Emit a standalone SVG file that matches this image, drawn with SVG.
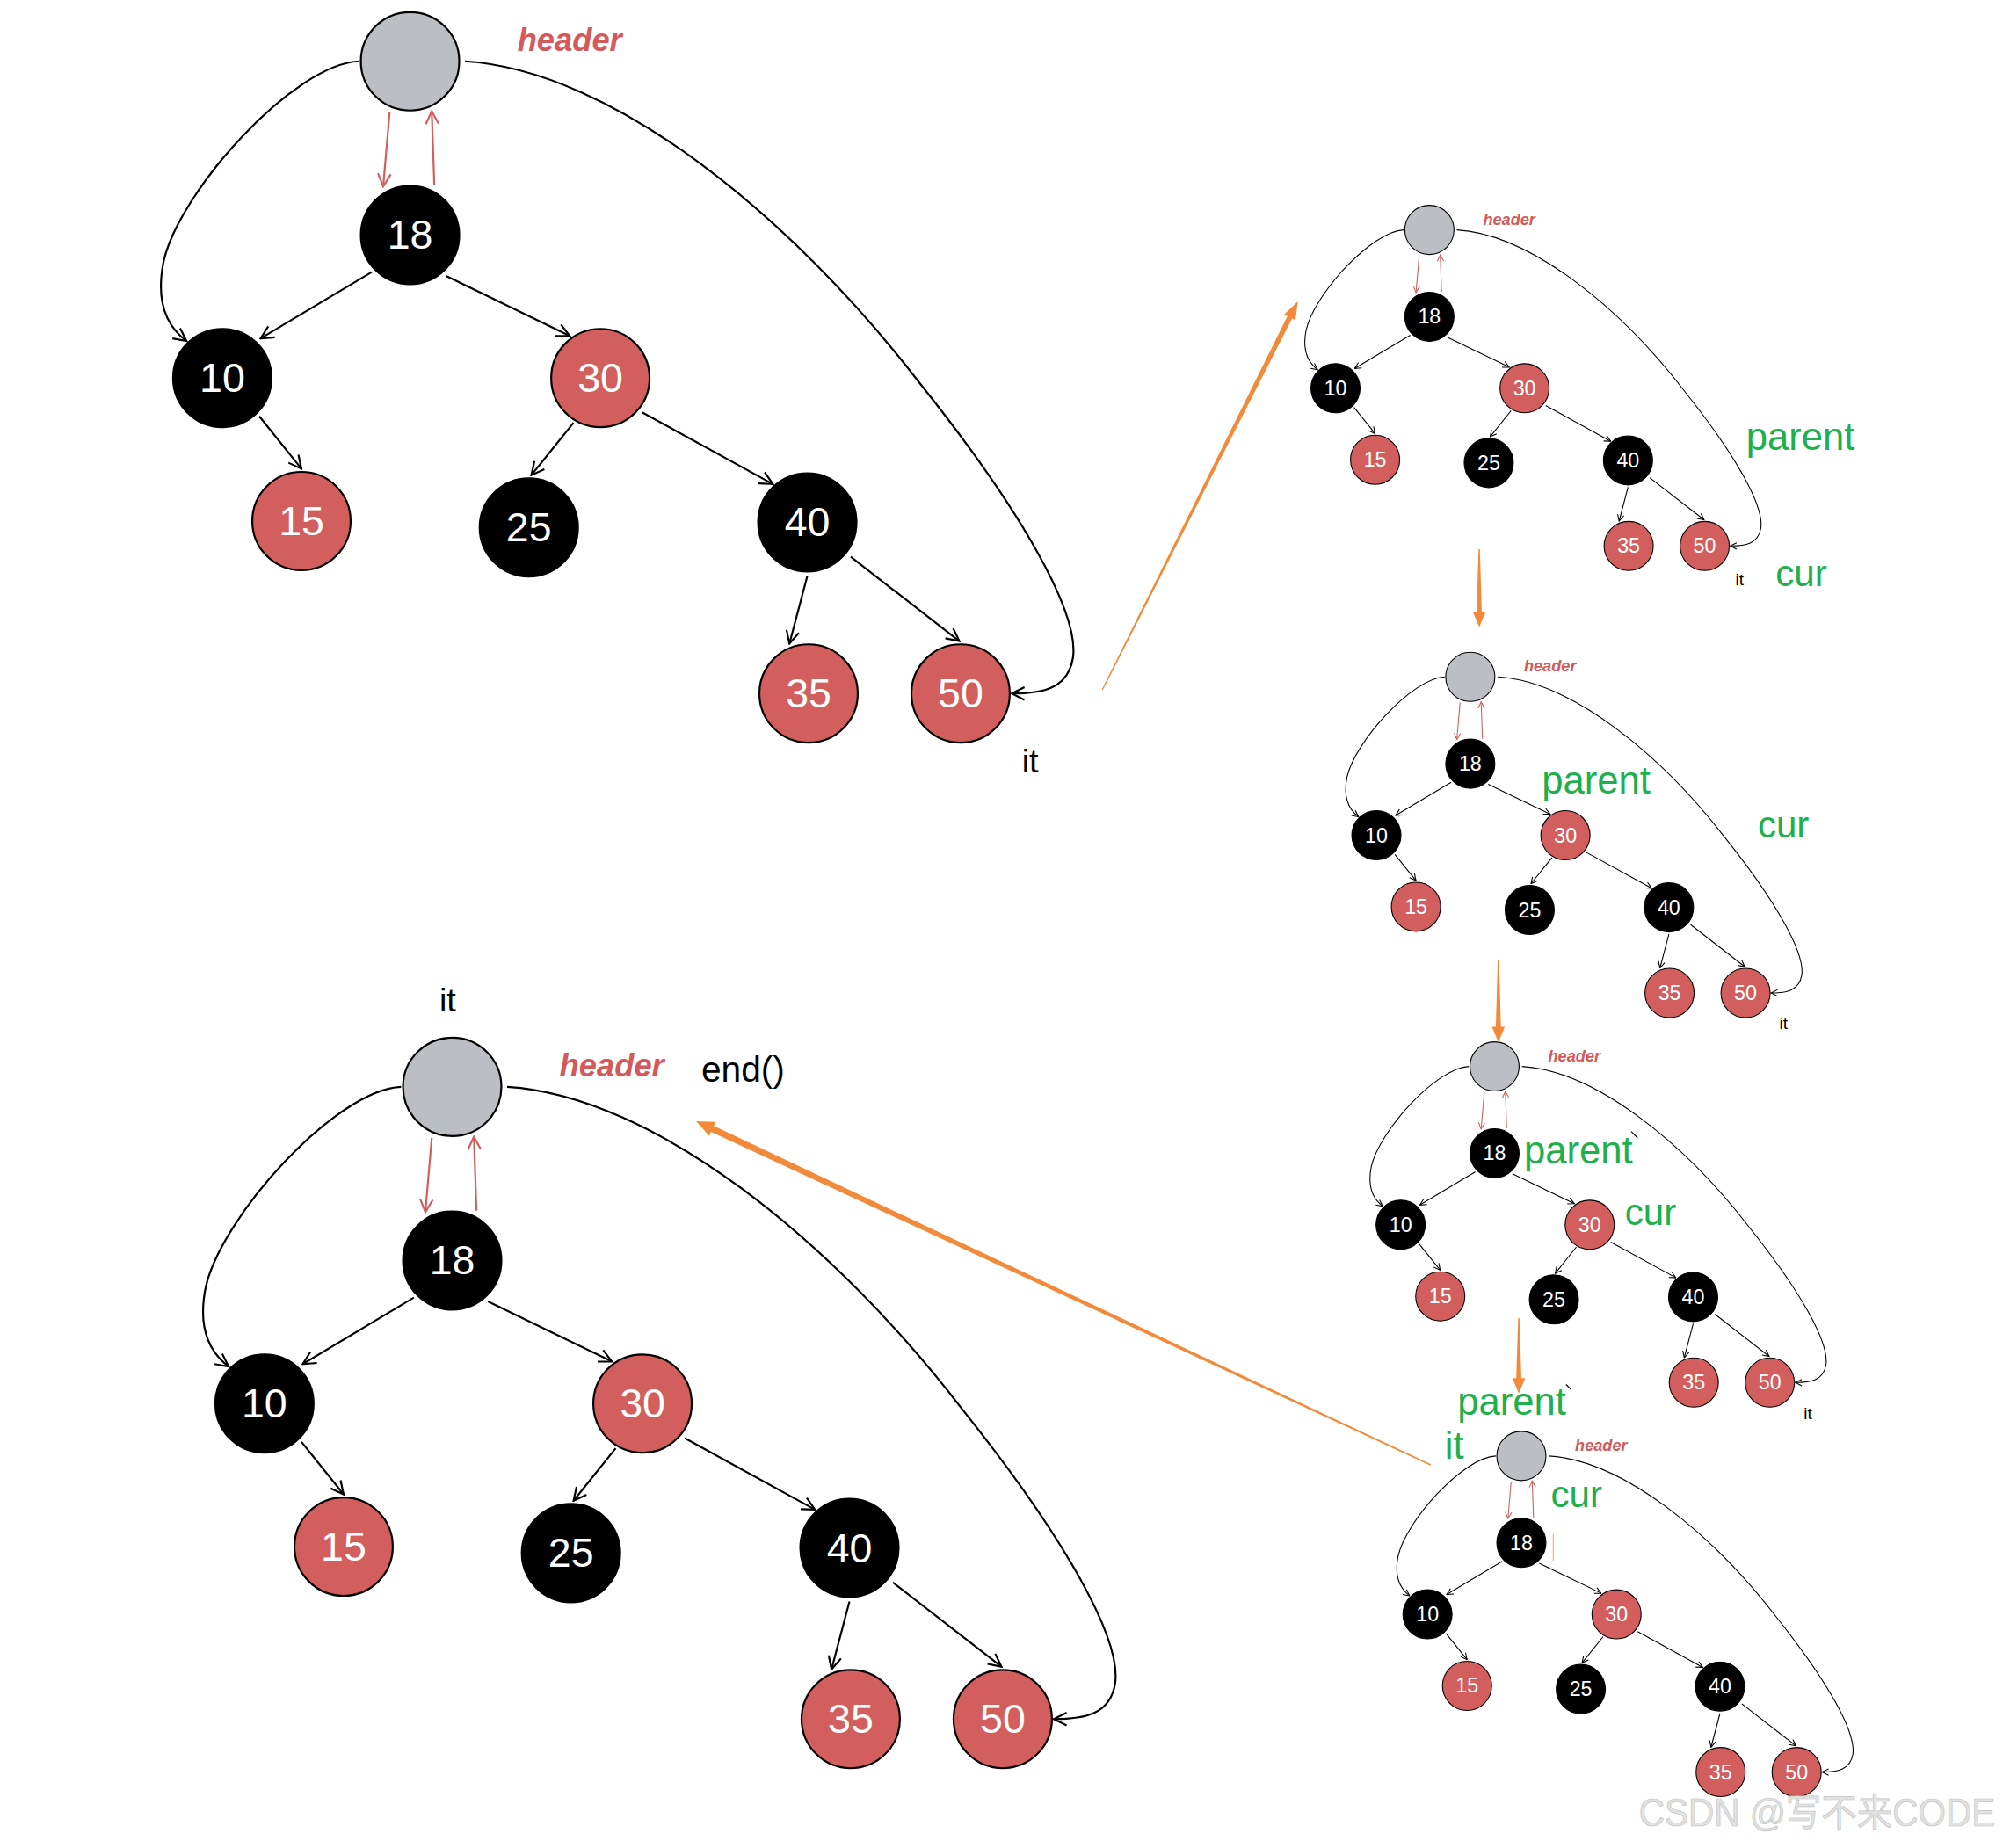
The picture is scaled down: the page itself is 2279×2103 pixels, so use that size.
<svg xmlns="http://www.w3.org/2000/svg" width="2279" height="2103" viewBox="0 0 2279 2103">
<style>
.hd{fill:#BBBEC2;stroke:#000;stroke-width:1.5}
.bk{fill:#000;stroke:#000;stroke-width:1.5}
.rd{fill:#D25E5E;stroke:#000;stroke-width:1.5}
.num{font-family:"Liberation Sans",Arial,sans-serif;font-size:32px;fill:#fff;text-anchor:middle}
.e{stroke:#000;stroke-width:1.5;fill:none;marker-end:url(#ah)}
.re{stroke:#D25E5E;stroke-width:1.5;fill:none;marker-end:url(#rah)}
.hl{font-family:"Liberation Sans",Arial,sans-serif;font-weight:bold;font-style:italic;font-size:25px;fill:#D4595B}
.lbl{font-family:"Liberation Sans",Arial,sans-serif;font-size:26px;fill:#000}
.gr{font-family:"Liberation Sans",Arial,sans-serif;font-size:30px;fill:#1DB04B}
.or{fill:#F28A3A;stroke:none}
.gap{stroke:#fff;stroke-width:3.5}
</style>
<defs>
<marker id="ah" viewBox="0 0 12 12" refX="11" refY="6" markerWidth="12" markerHeight="12" markerUnits="userSpaceOnUse" orient="auto"><path d="M1,1 L11,6 L1,11" fill="none" stroke="#000" stroke-width="1.5"/></marker>
<marker id="rah" viewBox="0 0 12 12" refX="11" refY="6" markerWidth="12" markerHeight="12" markerUnits="userSpaceOnUse" orient="auto"><path d="M1,1 L11,6 L1,11" fill="none" stroke="#D25E5E" stroke-width="1.5"/></marker>
</defs>
<rect width="2279" height="2103" fill="#fff"/>
<g transform="scale(1.4534)">

<!-- Tree 1 (top left, big) -->
<g id="tree1">
 <g id="tree1-connectors">
  <path class="e" d="M281,48 C230,50 140,150 128,205 C122,235 130,255 146,267"/>
  <path class="e" d="M364,48 C480,55 620,170 720,300 C800,400 845,480 840,515 C836,540 815,543 792,543"/>
  <line class="re" x1="305" y1="88" x2="300" y2="146"/>
  <line class="re" x1="340" y1="145" x2="338" y2="87"/>
  <line class="e" x1="291" y1="213" x2="204" y2="265"/>
  <line class="e" x1="349" y1="216" x2="446" y2="263"/>
  <line class="e" x1="203" y1="326" x2="236" y2="367"/>
  <line class="e" x1="449" y1="331" x2="416" y2="372"/>
  <line class="e" x1="503" y1="323" x2="605" y2="379"/>
  <line class="e" x1="632" y1="451" x2="618" y2="504"/>
  <line class="e" x1="666" y1="436" x2="751" y2="502"/>
 </g>
 <g id="tree1-header"><circle class="hd" cx="321" cy="48" r="38.5"/><text class="hl" x="405" y="40">header</text></g>
 <g id="tree1-n18"><circle class="bk" cx="321" cy="184" r="38.5"/><text class="num" x="321" y="195">18</text></g>
 <g id="tree1-n10"><circle class="bk" cx="174" cy="296" r="38.5"/><text class="num" x="174" y="307">10</text></g>
 <g id="tree1-n30"><circle class="rd" cx="470" cy="296" r="38.5"/><text class="num" x="470" y="307">30</text></g>
 <g id="tree1-n15"><circle class="rd" cx="236" cy="408" r="38.5"/><text class="num" x="236" y="419">15</text></g>
 <g id="tree1-n25"><circle class="bk" cx="414" cy="413" r="38.5"/><text class="num" x="414" y="424">25</text></g>
 <g id="tree1-n40"><circle class="bk" cx="632" cy="409" r="38.5"/><text class="num" x="632" y="420">40</text></g>
 <g id="tree1-n35"><circle class="rd" cx="633" cy="543" r="38.5"/><text class="num" x="633" y="554">35</text></g>
 <g id="tree1-n50"><circle class="rd" cx="752" cy="543" r="38.5"/><text class="num" x="752" y="554">50</text></g>
 <text class="lbl" x="800" y="605">it</text>
</g>

<!-- Tree 6 (bottom left, big) -->
<g id="tree6" transform="translate(33,803)">
 <g id="tree6-connectors">
  <path class="e" d="M281,48 C230,50 140,150 128,205 C122,235 130,255 146,267"/>
  <path class="e" d="M364,48 C480,55 620,170 720,300 C800,400 845,480 840,515 C836,540 815,543 792,543"/>
  <line class="re" x1="305" y1="88" x2="300" y2="146"/>
  <line class="re" x1="340" y1="145" x2="338" y2="87"/>
  <line class="e" x1="291" y1="213" x2="204" y2="265"/>
  <line class="e" x1="349" y1="216" x2="446" y2="263"/>
  <line class="e" x1="203" y1="326" x2="236" y2="367"/>
  <line class="e" x1="449" y1="331" x2="416" y2="372"/>
  <line class="e" x1="503" y1="323" x2="605" y2="379"/>
  <line class="e" x1="632" y1="451" x2="618" y2="504"/>
  <line class="e" x1="666" y1="436" x2="751" y2="502"/>
 </g>
 <g id="tree6-header"><circle class="hd" cx="321" cy="48" r="38.5"/><text class="hl" x="405" y="40">header</text></g>
 <g id="tree6-n18"><circle class="bk" cx="321" cy="184" r="38.5"/><text class="num" x="321" y="195">18</text></g>
 <g id="tree6-n10"><circle class="bk" cx="174" cy="296" r="38.5"/><text class="num" x="174" y="307">10</text></g>
 <g id="tree6-n30"><circle class="rd" cx="470" cy="296" r="38.5"/><text class="num" x="470" y="307">30</text></g>
 <g id="tree6-n15"><circle class="rd" cx="236" cy="408" r="38.5"/><text class="num" x="236" y="419">15</text></g>
 <g id="tree6-n25"><circle class="bk" cx="414" cy="413" r="38.5"/><text class="num" x="414" y="424">25</text></g>
 <g id="tree6-n40"><circle class="bk" cx="632" cy="409" r="38.5"/><text class="num" x="632" y="420">40</text></g>
 <g id="tree6-n35"><circle class="rd" cx="633" cy="543" r="38.5"/><text class="num" x="633" y="554">35</text></g>
 <g id="tree6-n50"><circle class="rd" cx="752" cy="543" r="38.5"/><text class="num" x="752" y="554">50</text></g>
</g>
<text class="lbl" x="344" y="792">it</text>
<text class="lbl" x="549" y="847" style="font-size:28px">end()</text>

<!-- Tree 2 (small, top right) -->
<g id="tree2" transform="translate(958.5,156) scale(0.5)">
 <g id="tree2-connectors">
  <path class="e" d="M281,48 C230,50 140,150 128,205 C122,235 130,255 146,267"/>
  <path class="e" d="M364,48 C480,55 620,170 720,300 C800,400 845,480 840,515 C836,540 815,543 792,543"/>
  <line class="re" x1="305" y1="88" x2="300" y2="146"/>
  <line class="re" x1="340" y1="145" x2="338" y2="87"/>
  <line class="e" x1="291" y1="213" x2="204" y2="265"/>
  <line class="e" x1="349" y1="216" x2="446" y2="263"/>
  <line class="e" x1="203" y1="326" x2="236" y2="367"/>
  <line class="e" x1="449" y1="331" x2="416" y2="372"/>
  <line class="e" x1="503" y1="323" x2="605" y2="379"/>
  <line class="e" x1="632" y1="451" x2="618" y2="504"/>
  <line class="e" x1="666" y1="436" x2="751" y2="502"/>
 </g>
 <g id="tree2-header"><circle class="hd" cx="321" cy="48" r="38.5"/><text class="hl" x="405" y="40">header</text></g>
 <g id="tree2-n18"><circle class="bk" cx="321" cy="184" r="38.5"/><text class="num" x="321" y="195">18</text></g>
 <g id="tree2-n10"><circle class="bk" cx="174" cy="296" r="38.5"/><text class="num" x="174" y="307">10</text></g>
 <g id="tree2-n30"><circle class="rd" cx="470" cy="296" r="38.5"/><text class="num" x="470" y="307">30</text></g>
 <g id="tree2-n15"><circle class="rd" cx="236" cy="408" r="38.5"/><text class="num" x="236" y="419">15</text></g>
 <g id="tree2-n25"><circle class="bk" cx="414" cy="413" r="38.5"/><text class="num" x="414" y="424">25</text></g>
 <g id="tree2-n40"><circle class="bk" cx="632" cy="409" r="38.5"/><text class="num" x="632" y="420">40</text></g>
 <g id="tree2-n35"><circle class="rd" cx="633" cy="543" r="38.5"/><text class="num" x="633" y="554">35</text></g>
 <g id="tree2-n50"><circle class="rd" cx="752" cy="543" r="38.5"/><text class="num" x="752" y="554">50</text></g>
 <text class="lbl" x="800" y="605">it</text>
</g>
<text class="gr" x="1367" y="352">parent</text>
<text class="gr" x="1390" y="459" style="font-size:29px">cur</text>

<!-- Tree 3 -->
<g id="tree3" transform="translate(990.5,506) scale(0.5)">
 <g id="tree3-connectors">
  <path class="e" d="M281,48 C230,50 140,150 128,205 C122,235 130,255 146,267"/>
  <path class="e" d="M364,48 C480,55 620,170 720,300 C800,400 845,480 840,515 C836,540 815,543 792,543"/>
  <line class="re" x1="305" y1="88" x2="300" y2="146"/>
  <line class="re" x1="340" y1="145" x2="338" y2="87"/>
  <line class="e" x1="291" y1="213" x2="204" y2="265"/>
  <line class="e" x1="349" y1="216" x2="446" y2="263"/>
  <line class="e" x1="203" y1="326" x2="236" y2="367"/>
  <line class="e" x1="449" y1="331" x2="416" y2="372"/>
  <line class="e" x1="503" y1="323" x2="605" y2="379"/>
  <line class="e" x1="632" y1="451" x2="618" y2="504"/>
  <line class="e" x1="666" y1="436" x2="751" y2="502"/>
 </g>
 <g id="tree3-header"><circle class="hd" cx="321" cy="48" r="38.5"/><text class="hl" x="405" y="40">header</text></g>
 <g id="tree3-n18"><circle class="bk" cx="321" cy="184" r="38.5"/><text class="num" x="321" y="195">18</text></g>
 <g id="tree3-n10"><circle class="bk" cx="174" cy="296" r="38.5"/><text class="num" x="174" y="307">10</text></g>
 <g id="tree3-n30"><circle class="rd" cx="470" cy="296" r="38.5"/><text class="num" x="470" y="307">30</text></g>
 <g id="tree3-n15"><circle class="rd" cx="236" cy="408" r="38.5"/><text class="num" x="236" y="419">15</text></g>
 <g id="tree3-n25"><circle class="bk" cx="414" cy="413" r="38.5"/><text class="num" x="414" y="424">25</text></g>
 <g id="tree3-n40"><circle class="bk" cx="632" cy="409" r="38.5"/><text class="num" x="632" y="420">40</text></g>
 <g id="tree3-n35"><circle class="rd" cx="633" cy="543" r="38.5"/><text class="num" x="633" y="554">35</text></g>
 <g id="tree3-n50"><circle class="rd" cx="752" cy="543" r="38.5"/><text class="num" x="752" y="554">50</text></g>
 <text class="lbl" x="805" y="600">it</text>
</g>
<text class="gr" x="1207" y="621">parent</text>
<text class="gr" x="1376" y="656" style="font-size:29px">cur</text>

<!-- Tree 4 -->
<g id="tree4" transform="translate(1009.5,811) scale(0.5)">
 <g id="tree4-connectors">
  <path class="e" d="M281,48 C230,50 140,150 128,205 C122,235 130,255 146,267"/>
  <path class="e" d="M364,48 C480,55 620,170 720,300 C800,400 845,480 840,515 C836,540 815,543 792,543"/>
  <line class="re" x1="305" y1="88" x2="300" y2="146"/>
  <line class="re" x1="340" y1="145" x2="338" y2="87"/>
  <line class="e" x1="291" y1="213" x2="204" y2="265"/>
  <line class="e" x1="349" y1="216" x2="446" y2="263"/>
  <line class="e" x1="203" y1="326" x2="236" y2="367"/>
  <line class="e" x1="449" y1="331" x2="416" y2="372"/>
  <line class="e" x1="503" y1="323" x2="605" y2="379"/>
  <line class="e" x1="632" y1="451" x2="618" y2="504"/>
  <line class="e" x1="666" y1="436" x2="751" y2="502"/>
 </g>
 <g id="tree4-header"><circle class="hd" cx="321" cy="48" r="38.5"/><text class="hl" x="405" y="40">header</text></g>
 <g id="tree4-n18"><circle class="bk" cx="321" cy="184" r="38.5"/><text class="num" x="321" y="195">18</text></g>
 <g id="tree4-n10"><circle class="bk" cx="174" cy="296" r="38.5"/><text class="num" x="174" y="307">10</text></g>
 <g id="tree4-n30"><circle class="rd" cx="470" cy="296" r="38.5"/><text class="num" x="470" y="307">30</text></g>
 <g id="tree4-n15"><circle class="rd" cx="236" cy="408" r="38.5"/><text class="num" x="236" y="419">15</text></g>
 <g id="tree4-n25"><circle class="bk" cx="414" cy="413" r="38.5"/><text class="num" x="414" y="424">25</text></g>
 <g id="tree4-n40"><circle class="bk" cx="632" cy="409" r="38.5"/><text class="num" x="632" y="420">40</text></g>
 <g id="tree4-n35"><circle class="rd" cx="633" cy="543" r="38.5"/><text class="num" x="633" y="554">35</text></g>
 <g id="tree4-n50"><circle class="rd" cx="752" cy="543" r="38.5"/><text class="num" x="752" y="554">50</text></g>
 <text class="lbl" x="805" y="600">it</text>
</g>
<line class="gap" x1="1310" y1="903" x2="1315" y2="908"/>
<text class="gr" x="1193" y="911">parent</text>
<line x1="1277" y1="886" x2="1282" y2="891" stroke="#000" stroke-width="0.8"/>
<text class="gr" x="1272" y="959" style="font-size:29px">cur</text>

<!-- Tree 5 -->
<g id="tree5" transform="translate(1030.5,1116) scale(0.5)">
 <g id="tree5-connectors">
  <path class="e" d="M281,48 C230,50 140,150 128,205 C122,235 130,255 146,267"/>
  <path class="e" d="M364,48 C480,55 620,170 720,300 C800,400 845,480 840,515 C836,540 815,543 792,543"/>
  <line class="re" x1="305" y1="88" x2="300" y2="146"/>
  <line class="re" x1="340" y1="145" x2="338" y2="87"/>
  <line class="e" x1="291" y1="213" x2="204" y2="265"/>
  <line class="e" x1="349" y1="216" x2="446" y2="263"/>
  <line class="e" x1="203" y1="326" x2="236" y2="367"/>
  <line class="e" x1="449" y1="331" x2="416" y2="372"/>
  <line class="e" x1="503" y1="323" x2="605" y2="379"/>
  <line class="e" x1="632" y1="451" x2="618" y2="504"/>
  <line class="e" x1="666" y1="436" x2="751" y2="502"/>
 </g>
 <g id="tree5-header"><circle class="hd" cx="321" cy="48" r="38.5"/><text class="hl" x="405" y="40">header</text></g>
 <g id="tree5-n18"><circle class="bk" cx="321" cy="184" r="38.5"/><text class="num" x="321" y="195">18</text></g>
 <g id="tree5-n10"><circle class="bk" cx="174" cy="296" r="38.5"/><text class="num" x="174" y="307">10</text></g>
 <g id="tree5-n30"><circle class="rd" cx="470" cy="296" r="38.5"/><text class="num" x="470" y="307">30</text></g>
 <g id="tree5-n15"><circle class="rd" cx="236" cy="408" r="38.5"/><text class="num" x="236" y="419">15</text></g>
 <g id="tree5-n25"><circle class="bk" cx="414" cy="413" r="38.5"/><text class="num" x="414" y="424">25</text></g>
 <g id="tree5-n40"><circle class="bk" cx="632" cy="409" r="38.5"/><text class="num" x="632" y="420">40</text></g>
 <g id="tree5-n35"><circle class="rd" cx="633" cy="543" r="38.5"/><text class="num" x="633" y="554">35</text></g>
 <g id="tree5-n50"><circle class="rd" cx="752" cy="543" r="38.5"/><text class="num" x="752" y="554">50</text></g>
</g>
<line class="gap" x1="1331" y1="1207" x2="1336" y2="1212"/>
<text class="gr" x="1141" y="1108">parent</text>
<line x1="1226" y1="1084" x2="1230" y2="1088" stroke="#000" stroke-width="0.8"/>
<text class="gr" x="1131" y="1142">it</text>
<text class="gr" x="1214" y="1180" style="font-size:29px">cur</text>
<line x1="1216" y1="1201" x2="1216" y2="1222" stroke="#F0C040" stroke-width="0.8"/>

<!-- Orange transition arrows -->
<g id="transitions">
 <polygon class="or" points="862.6,539.8 1007.9,247.6 1005.2,246.3 1016,236 1014.2,250.7 1011.5,249.4 863.4,540.2"/>
 <polygon class="or" points="1157.5,430 1156,479 1153,479 1158,491 1163,479 1160,479 1158.5,430"/>
 <polygon class="or" points="1172.5,752 1171,804 1168,804 1173,816 1178,804 1175,804 1173.5,752"/>
 <polygon class="or" points="1188.5,1032 1187,1079 1184,1079 1189,1091 1194,1079 1191,1079 1189.5,1032"/>
 <polygon class="or" points="1120.2,1146.5 558.8,881.6 560.2,878.5 545,878 555.2,889.3 556.6,886.2 1119.8,1147.5"/>
</g>

<text x="1283" y="1430" textLength="279" lengthAdjust="spacingAndGlyphs" style="font-family:'Liberation Sans','Noto Sans CJK SC',sans-serif;font-size:30px;fill:#E2E2E2;stroke:#C4C4C4;stroke-width:0.5">CSDN @写不来CODE</text>
</g>
</svg>
